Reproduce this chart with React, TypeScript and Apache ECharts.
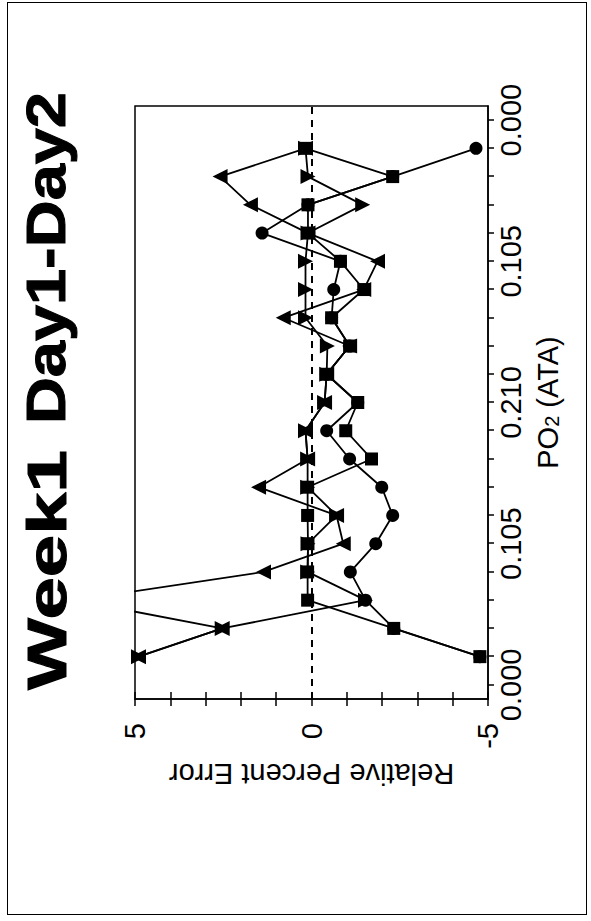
import React, { useEffect, useRef } from "react";
import * as echarts from "echarts";

// Step index along the PO2 ramp (0.000 -> 0.105 -> 0.210 -> 0.105 -> 0.000)
const steps = [1, 2, 3, 4, 5, 6, 7, 8, 9, 10, 11, 12, 13, 14, 15, 16, 17, 18, 19];
const tickSteps = [0, 1, 2, 3, 4, 5, 6, 7, 8, 9, 10, 11, 12, 13, 14, 15, 16, 17, 18, 19, 20];
const labelSteps = [0, 5, 10, 15, 20];
const labelTexts = ["0.000", "0.105", "0.210", "0.105", "0.000"];

const circleSeries = [-4.77, -2.33, -1.53, -1.1, -1.82, -2.3, -1.99, -1.08, -0.43, -1.31, -0.43, -1.08, -0.57, -0.63, -0.82, 1.4, 0.1, -2.3, -4.66];
const squareSeries = [-4.77, -2.33, 0.11, 0.11, 0.1, 0.11, 0.11, -1.7, -0.97, -1.31, -0.43, -1.08, -0.57, -1.48, -0.82, 0.1, 0.1, -2.3, 0.17];
const upSeries = [4.9, 2.53, 6.7, 1.36, -0.9, -0.71, 1.5, 0.11, 0.17, -0.37, -0.43, -1.08, 0.8, -1.48, -1.87, 0.1, 1.73, 2.59, 0.17];
const downSeries = [4.9, 2.53, -1.53, 0.11, 0.1, -0.71, 0.11, 0.11, 0.17, -0.37, -0.43, -0.45, 0.17, 0.17, 0.17, 0.1, -1.45, 0.1, 0.17];

const FONT = "'Liberation Sans', Arial, sans-serif";

function pairs(vals: number[]) {
  return steps.map((s, i) => [s, vals[i]]);
}

export default function App() {
  const ref = useRef<HTMLDivElement>(null);
  useEffect(() => {
    const chart = echarts.init(ref.current!, null, { renderer: "svg" });
    const base = {
      type: "line" as const,
      color: "#000",
      lineStyle: { color: "#000", width: 1.8 },
      itemStyle: { color: "#000" },
      clip: true,
      z: 3,
    };
    chart.setOption({
      animation: false,
      backgroundColor: "#fff",
      graphic: [
        {
          type: "text",
          x: 231,
          y: 74,
          scaleX: 1.36,
          style: { text: "Week1", font: `bold 56px ${FONT}`, fill: "#000", stroke: "#000", lineWidth: 1, textAlign: "left", textVerticalAlign: "bottom" },
        },
        {
          type: "text",
          x: 829,
          y: 74,
          scaleX: 1.16,
          style: { text: "Day1-Day2", font: `bold 56px ${FONT}`, fill: "#000", stroke: "#000", lineWidth: 1, textAlign: "right", textVerticalAlign: "bottom" },
        },
      ],
      grid: { left: 222, right: 106, top: 135, bottom: 103, show: true, borderColor: "#000", borderWidth: 1.5, backgroundColor: "transparent" },
      xAxis: {
        type: "value",
        min: -0.5,
        max: 20.5,
        name: "{n|PO}{s|2}{n| (ATA)}",
        nameLocation: "middle",
        nameGap: 34,
        nameTextStyle: {
          rich: {
            n: { fontFamily: FONT, fontSize: 29, color: "#000", lineHeight: 40, verticalAlign: "bottom" },
            s: { fontFamily: FONT, fontSize: 20, color: "#000", lineHeight: 20, verticalAlign: "bottom" },
          },
        },
        axisLine: { onZero: false, lineStyle: { color: "#000", width: 1.5 } },
        axisTick: { customValues: tickSteps, length: 6, lineStyle: { color: "#000", width: 1.5 } },
        axisLabel: {
          customValues: labelSteps,
          formatter: (v: number) => labelTexts[labelSteps.indexOf(v)] ?? "",
          fontFamily: FONT,
          fontSize: 29,
          color: "#000",
          margin: 8,
        },
        splitLine: { show: false },
      },
      yAxis: [
        {
          type: "value",
          min: -5,
          max: 5,
          interval: 1,
          name: "Relative Percent Error",
          nameLocation: "middle",
          nameGap: 52,
          nameTextStyle: { fontFamily: FONT, fontSize: 29, color: "#000" },
          axisLine: { onZero: false, lineStyle: { color: "#000", width: 1.5 } },
          axisTick: { length: 7, lineStyle: { color: "#000", width: 1.5 } },
          axisLabel: {
            formatter: (v: number) => (v % 5 === 0 ? String(v) : ""),
            fontFamily: FONT,
            fontSize: 29,
            color: "#000",
            margin: 24,
          },
          splitLine: { show: false },
        },
        {
          type: "value",
          min: -5,
          max: 5,
          interval: 1,
          position: "left",
          axisLine: { show: false, onZero: false },
          axisTick: { inside: true, length: 7, lineStyle: { color: "#000", width: 1.5 } },
          axisLabel: { show: false },
          splitLine: { show: false },
        },
      ],
      series: [
        {
          ...base,
          name: "circle",
          data: pairs(circleSeries),
          symbol: "circle",
          symbolSize: 13,
          markLine: {
            silent: true,
            symbol: "none",
            label: { show: false },
            lineStyle: { color: "#000", type: [7, 6], width: 2 },
            data: [{ yAxis: 0 }],
          },
        },
        { ...base, name: "up", data: pairs(upSeries), symbol: "triangle", symbolSize: 15 },
        { ...base, name: "down", data: pairs(downSeries), symbol: "triangle", symbolRotate: 180, symbolSize: 15 },
        { ...base, name: "square", data: pairs(squareSeries), symbol: "rect", symbolSize: 13 },
      ],
    });
    return () => chart.dispose();
  }, []);
  return (
    <div style={{ position: "fixed", left: 0, top: 0, width: 591, height: 921, overflow: "hidden", background: "#fff" }}>
      <div
        ref={ref}
        style={{ position: "absolute", left: 0, top: 0, width: 921, height: 591, transformOrigin: "0 0", transform: "translateY(921px) rotate(-90deg)" }}
      />
      <div style={{ position: "absolute", left: 7, top: 2, width: 578, height: 911, border: "1.5px solid #000", pointerEvents: "none" }} />
    </div>
  );
}
